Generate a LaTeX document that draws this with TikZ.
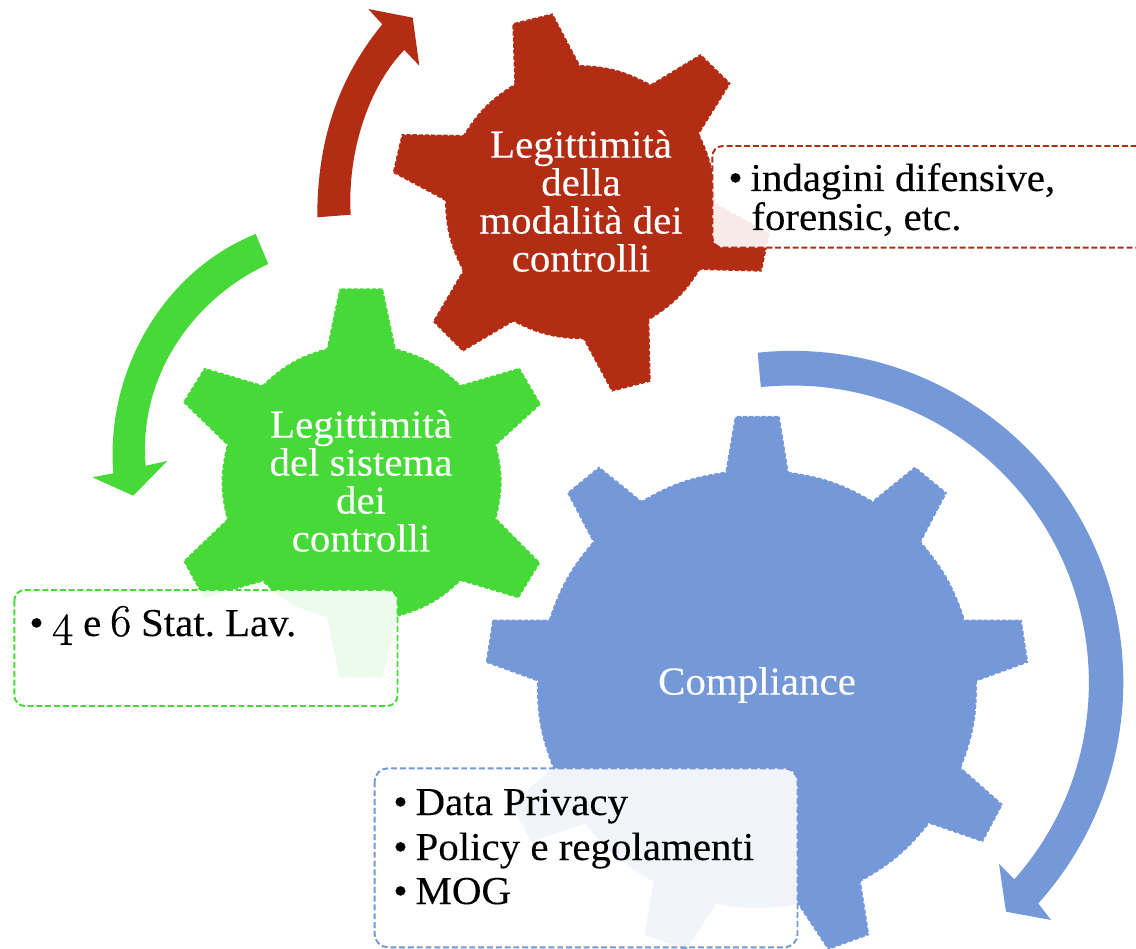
\documentclass[tikz,border=0pt]{standalone}
\usepackage{fontspec}
\setmainfont[FakeStretch=1.035,FakeBold=0.15]{Liberation Serif}
\newfontfamily\oldnum[Numbers=OldStyle,Scale=1.15,FakeBold=0.8]{Latin Modern Roman}
\definecolor{gearred}{RGB}{178,45,20}
\definecolor{geargreen}{RGB}{70,217,55}
\definecolor{gearblue}{RGB}{117,152,216}
\tikzset{
    gear/.style={fill=#1,draw=white,line width=0.9pt,dash pattern=on 1pt off 2.5pt},
    turn/.style={fill=#1,draw=none},
    listbox/.style={draw=#1,fill=white,fill opacity=0.9,rounded corners=6pt,line width=1.1pt,dashed,dash pattern=on 3.4pt off 1.6pt},
    gearlabel/.style={text=white,align=center,font=\fontsize{22.5}{21.6}\selectfont},
    listline/.style={text=black,anchor=base west,inner sep=0pt,font=\fontsize{22.5}{21.6}\selectfont},
}
\begin{document}
\begin{tikzpicture}[x=0.02cm,y=-0.02cm]
    \useasboundingbox (0,0) rectangle (1136,949);
    % arrows
    \fill[turn=gearred] (317.3,217.3) .. controls (317,130) and (345,70) .. (382.3,24.3) -- (368.3,9) -- (412.7,17.7) -- (419.3,65.7) -- (404.3,50) .. controls (370,85) and (347,150) .. (350.7,214.7) -- cycle;
    \fill[turn=geargreen] (255.7,234) .. controls (165,270) and (105,370) .. (113.3,473.3) -- (92.3,477.3) -- (133.3,495.7) -- (167.3,461) -- (145.7,465.7) .. controls (138,380) and (190,300) .. (268.3,264) -- cycle;
    \fill[turn=gearblue] (757.7,352.7) arc (-96:42:331) -- (1051,920) -- (1006,911.7) -- (999,864) -- (1014.3,879.3) arc (41.5:-96:297) -- cycle;
    % gears
    \path[gear=gearred] (512.3,23.3) -- (552.7,13.3) -- (580,65) to[bend left=13] (650.7,84.3) -- (700.7,54) -- (730.7,83.3) -- (699.3,134)
        to[bend left=13] (715,203) -- (770,233.3) -- (761.7,271.7) -- (700,270) to[bend left=13] (649.3,320) -- (650.7,381.7) -- (611.7,391.7)
        -- (583.3,339.3) to[bend left=13] (513.3,321.7) -- (462.7,351.7) -- (432.7,321.7) -- (462.7,270.7) to[bend left=13] (445,200.7)
        -- (392.7,172.7) -- (401.7,134) -- (463.3,135) to[bend left=13] (514.3,84) -- cycle;
    \path[gear=geargreen] (339.3,288.3) -- (382.9,288.3) -- (395.7,348.3) to[bend left=14] (460.7,385) -- (519.6,367.7) -- (541.1,404.3) -- (496.4,445)
        to[bend left=14] (496.4,518.3) -- (540.4,562.7) -- (518.6,598.3) -- (460.7,581) to[bend left=14] (397.5,616.7) -- (382.9,677.3) -- (339.3,677.3)
        -- (326.8,617.3) to[bend left=14] (262.5,581.7) -- (203.6,598.3) -- (183.2,561) -- (226.8,519.3) to[bend left=14] (226.8,445)
        -- (182.9,402.3) -- (204.3,367.7) -- (262.5,385) to[bend left=14] (326.8,348.3) -- cycle;
    \path[gear=gearblue] (735,415.8) -- (779.6,415.8) -- (788.6,471.8) to[bend left=11] (872.5,500.8) -- (914.9,466.5) -- (947,492.8) -- (921.2,541.8)
        to[bend left=11] (964.9,619.5) -- (1021.6,619.5) -- (1028.3,662.6) -- (976.9,681.2) to[bend left=11] (961.3,767.6) -- (1002.9,804.4) -- (982.8,842.2)
        -- (929.2,823.7) to[bend left=11] (860.9,881.5) -- (869.3,935) -- (828,950) -- (797.5,904) to[bend left=11] (716.5,904) -- (686,950) -- (644.5,935)
        -- (653.3,881.5) to[bend left=11] (584.8,823.7) -- (531.2,842.2) -- (511,804.4) -- (552.7,767.6) to[bend left=11] (537,681.2)
        -- (485.7,662.6) -- (492.4,619.5) -- (549,619.5) to[bend left=11] (592.8,541.8) -- (567,492.8) -- (599,466.5) -- (641.5,500.8) to[bend left=11] (725.4,471.8) -- cycle;
    % gear names
    \node[gearlabel] (redname) at (581,201) {Legittimità\\della\\modalità dei\\controlli};
    \node[gearlabel] (greenname) at (361,481) {Legittimità\\del sistema\\dei\\controlli};
    \node[gearlabel] (bluename) at (757,685) {Compliance};
    % boxes
    \draw[listbox=gearred] (712.3,146) rectangle (1160,247.7);
    \draw[listbox=geargreen] (14.3,590) rectangle (397.5,706);
    \draw[listbox=gearblue,rounded corners=7.5pt] (374.7,768.3) rectangle (797.5,947.3);
    % box texts
    \node[listline] (redone) at (728,191) {•\hspace{4.5pt}indagini difensive,};
    \node[listline] (redtwo) at (751,230) {forensic, etc.};
    \node[listline] (greenone) at (29,636) {•\hspace{4.5pt}{\oldnum 4}\hspace{-0.5pt} e\hspace{-1.5pt} {\oldnum 6}\hspace{-1pt} Stat.\hspace{-2pt} Lav.};
    \node[listline] (blueone) at (393,815) {•\hspace{4.5pt}Data Privacy};
    \node[listline] (bluetwo) at (393,860) {•\hspace{4.5pt}Policy e regolamenti};
    \node[listline] (bluethree) at (393,904) {•\hspace{4.5pt}MOG};
\end{tikzpicture}
\end{document}
